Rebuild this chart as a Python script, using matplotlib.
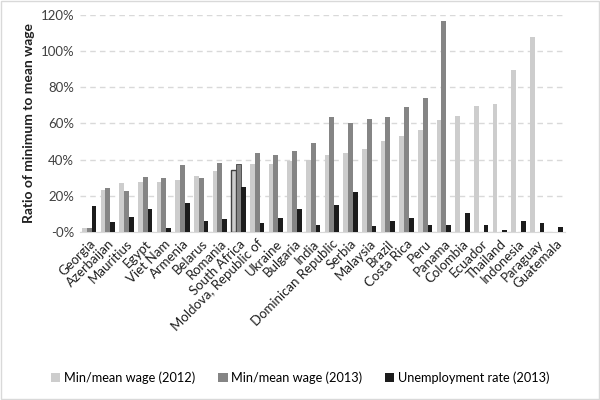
import matplotlib
matplotlib.use("Agg")
import matplotlib.pyplot as plt
import numpy as np

plt.rcParams['font.family'] = ['Lato', 'DejaVu Sans']

countries = ['Georgia', 'Azerbaijan', 'Mauritius', 'Egypt', 'Viet Nam', 'Armenia',
             'Belarus', 'Romania', 'South Africa', 'Moldova, Republic of', 'Ukraine',
             'Bulgaria', 'India', 'Dominican Republic', 'Serbia', 'Malaysia', 'Brazil',
             'Costa Rica', 'Peru', 'Panama', 'Colombia', 'Ecuador', 'Thailand',
             'Indonesia', 'Paraguay', 'Guatemala']

# values in percent (nan = no bar)
wage_2012 = [2.4, 23.3, 27.0, 27.4, 27.8, 28.5, 31.1, 33.8, 34.0, 37.3, 37.3,
             39.5, 39.9, 42.6, 43.4, 46.1, 50.4, 53.1, 56.4, 61.9, 64.3, 69.7,
             70.6, 89.5, 107.7, np.nan]
wage_2013 = [2.4, 24.4, 22.8, 30.5, 30.0, 36.8, 30.0, 37.9, 37.3, 43.8, 42.5,
             44.5, 49.4, 63.6, 60.1, 62.3, 63.4, 69.3, 73.9, 116.5, np.nan, np.nan,
             np.nan, np.nan, np.nan, np.nan]
unemp_2013 = [14.2, 5.5, 8.3, 12.7, 2.0, 16.2, 5.9, 7.4, 24.8, 5.1, 7.9,
              12.9, 3.7, 14.9, 22.2, 3.1, 5.9, 7.5, 3.9, 4.0, 10.5, 4.0,
              1.1, 6.2, 5.1, 2.8]

fig = plt.figure(figsize=(6, 4), dpi=100)
ax = fig.add_axes([0.133, 0.42, 0.809, 0.543])

x = np.arange(len(countries))
w = 0.26
b1 = ax.bar(x - w, wage_2012, w, color='#cdcdcd', label='Min/mean wage (2012)', zorder=3)
b2 = ax.bar(x, wage_2013, w, color='#858585', label='Min/mean wage (2013)', zorder=3)
b3 = ax.bar(x + w, unemp_2013, w, color='#1c1c1c', label='Unemployment rate (2013)', zorder=3)

# South Africa bars are outlined in the original
sa = countries.index('South Africa')
b1[sa].set_edgecolor('#404040')
b1[sa].set_linewidth(1.0)
b2[sa].set_edgecolor('#404040')
b2[sa].set_linewidth(0.6)

ax.set_xlim(-0.5, len(countries) - 0.5)
ax.set_ylim(0, 120)
yt = np.arange(0, 121, 20)
ax.set_yticks(yt)
ax.set_yticklabels(['-0%'] + ['%d%%' % v for v in yt[1:]], fontsize=9.5, color='#404040')
ax.set_xticks(x)
ax.set_xticklabels(countries, rotation=45, ha='right', rotation_mode='anchor',
                   fontsize=9.5, color='#202020')
ax.tick_params(length=0, pad=4)
ax.grid(axis='y', linestyle=(0, (4, 3)), color='#d9d9d9', linewidth=1, zorder=0)
for s in ['top', 'right', 'left']:
    ax.spines[s].set_visible(False)
ax.spines['bottom'].set_color('#d9d9d9')
ax.set_ylabel('Ratio of minimum to mean wage', fontsize=10, fontweight='bold', color='#202020')

fig.legend(handles=[b1, b2, b3], loc='center', bbox_to_anchor=(0.5, 0.055), ncol=3,
           frameon=False, fontsize=9.2, handlelength=0.75, handleheight=0.75,
           handletextpad=0.25, columnspacing=1.8)

fig.patches.append(plt.Rectangle((0.002, 0.002), 0.996, 0.996, transform=fig.transFigure,
                                 fill=False, edgecolor='#d9d9d9', linewidth=1))

plt.savefig('out.png', dpi=100)
